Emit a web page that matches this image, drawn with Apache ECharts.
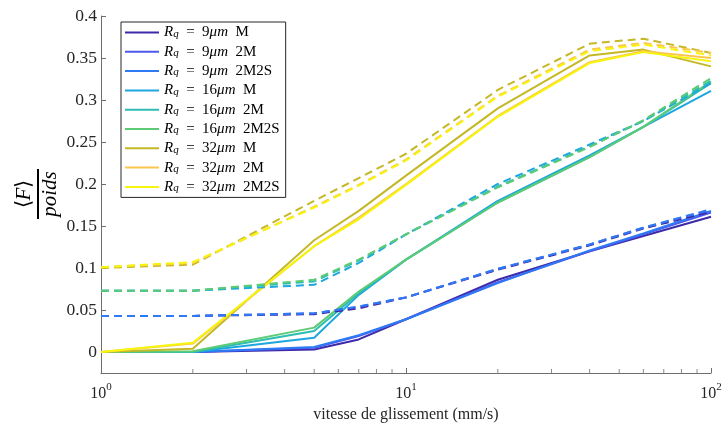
<!DOCTYPE html>
<html>
<head>
<meta charset="utf-8">
<script src="https://cdn.jsdelivr.net/npm/echarts@6/dist/echarts.min.js"></script>
<style>html,body{margin:0;padding:0;background:#fff}#c{width:725px;height:430px}</style>
</head>
<body>
<div id="c"></div>
<script>
// ---- data ----
const xVals = [1, 2, 5, 7, 10, 20, 40, 60, 100];

const names = ['9 M', '9 2M', '9 2M2S', '16 M', '16 2M', '16 2M2S', '32 M', '32 2M', '32 2M2S'];
const colors = ['#3d2aa8', '#4e58ec', '#2d7af4', '#1ea6df', '#2cbdb3', '#5ccb74', '#c5b826', '#fcc64e', '#f6f50e'];

// solid lines
const s9M      = [0, 0, 0.003, 0.015, 0.039, 0.086, 0.120, 0.138, 0.161];
const s9_2M    = [0, 0, 0.005, 0.019, 0.039, 0.083, 0.120, 0.140, 0.166];
const s9_2M2S  = [0, 0, 0.006, 0.020, 0.039, 0.082, 0.121, 0.141, 0.168];
const s16M     = [0, 0, 0.017, 0.068, 0.110, 0.180, 0.234, 0.268, 0.311];
const s16_2M   = [0, 0, 0.025, 0.070, 0.110, 0.178, 0.232, 0.268, 0.320];
const s16_2M2S = [0, 0.001, 0.029, 0.072, 0.110, 0.178, 0.232, 0.268, 0.322];
const s32M     = [0, 0.004, 0.133, 0.168, 0.210, 0.290, 0.353, 0.360, 0.340];
const s32_2M   = [0, 0.010, 0.126, 0.160, 0.200, 0.281, 0.345, 0.358, 0.350];
const s32_2M2S = [0, 0.011, 0.126, 0.158, 0.199, 0.280, 0.344, 0.357, 0.346];

// dashed lines
const d9M      = [0.043, 0.043, 0.045, 0.052, 0.065, 0.098, 0.127, 0.147, 0.167];
const d9_2M    = [0.043, 0.043, 0.046, 0.054, 0.065, 0.099, 0.128, 0.148, 0.169];
const d9_2M2S  = [0.043, 0.043, 0.046, 0.054, 0.065, 0.099, 0.128, 0.148, 0.170];
const d16M     = [0.073, 0.073, 0.080, 0.106, 0.140, 0.200, 0.247, 0.275, 0.320];
const d16_2M   = [0.073, 0.073, 0.084, 0.109, 0.140, 0.197, 0.245, 0.275, 0.323];
const d16_2M2S = [0.073, 0.073, 0.086, 0.110, 0.140, 0.196, 0.244, 0.276, 0.326];
const d32M     = [0.100, 0.104, 0.180, 0.207, 0.236, 0.312, 0.367, 0.373, 0.356];
const d32_2M   = [0.101, 0.106, 0.173, 0.199, 0.229, 0.305, 0.360, 0.368, 0.356];
const d32_2M2S = [0.101, 0.107, 0.172, 0.198, 0.228, 0.304, 0.358, 0.366, 0.353];

const solid = [s9M, s9_2M, s9_2M2S, s16M, s16_2M, s16_2M2S, s32M, s32_2M, s32_2M2S];
const dashed = [d9M, d9_2M, d9_2M2S, d16M, d16_2M, d16_2M2S, d32M, d32_2M, d32_2M2S];

const yTicks = [0, 0.05, 0.1, 0.15, 0.2, 0.25, 0.3, 0.35, 0.4];
const xMinorTicks = [2, 3, 4, 5, 6, 7, 8, 9, 20, 30, 40, 50, 60, 70, 80, 90];
const xLabel = 'vitesse de glissement (mm/s)';

// ---- chart ----
const FONT = 'Liberation Serif';
const TXT = '#262626';
const AX = '#6e6e6e';

const legendNames = names.map(n => 'Rq = ' + n.split(' ')[0] + 'μm ' + n.split(' ')[1]);

const series = [];
for (let i = 0; i < 9; i++) {
  series.push({
    name: legendNames[i], type: 'line', symbol: 'none', showSymbol: false,
    data: xVals.map((x, k) => [x, solid[i][k]]),
    lineStyle: { color: colors[i], width: 2 }, itemStyle: { color: colors[i] },
    silent: true, z: 2
  });
}
for (let i = 0; i < 9; i++) {
  series.push({
    name: legendNames[i] + ' (tirets)', type: 'line', symbol: 'none', showSymbol: false,
    data: xVals.map((x, k) => [x, dashed[i][k]]),
    lineStyle: { color: colors[i], width: 2, type: [8, 5] }, itemStyle: { color: colors[i] },
    silent: true, z: 2
  });
}
// minor ticks of the log axis (drawn at the axis baseline)
series.push({
  name: 'minor', type: 'scatter', symbol: 'rect', symbolSize: [1, 4], symbolOffset: [0, -2],
  data: xMinorTicks.map(x => [x, -0.025]),
  itemStyle: { color: AX }, silent: true, clip: false, z: 5
});

const chart = echarts.init(document.getElementById('c'), null, { renderer: 'canvas' });
chart.setOption({
  animation: false,
  backgroundColor: '#fff',
  grid: { left: 101, right: 14, top: 16, bottom: 57, outerBoundsMode: 'none', containLabel: false },
  xAxis: {
    type: 'log', logBase: 10, min: 1, max: 100,
    axisLine: { show: true, onZero: false, lineStyle: { color: AX, width: 1 } },
    axisTick: { show: true, inside: true, length: 5, lineStyle: { color: AX } },
    splitLine: { show: false },
    axisLabel: {
      color: TXT, fontFamily: FONT, fontSize: 16, margin: 9,
      formatter: v => '{b|10}{s|' + Math.round(Math.log10(v)) + '}',
      rich: {
        b: { fontFamily: FONT, fontSize: 16, color: TXT, lineHeight: 20, verticalAlign: 'bottom' },
        s: { fontFamily: FONT, fontSize: 11, color: TXT, lineHeight: 20, verticalAlign: 'top', padding: [0, 0, 8, 0] }
      }
    },
    name: xLabel, nameLocation: 'middle', nameGap: 26,
    nameTextStyle: { color: TXT, fontFamily: FONT, fontSize: 16 }
  },
  yAxis: {
    type: 'value', min: -0.025, max: 0.4,
    axisLine: { show: true, onZero: false, lineStyle: { color: AX, width: 1 } },
    axisTick: { show: true, inside: true, length: 5, customValues: yTicks, lineStyle: { color: AX } },
    splitLine: { show: false },
    axisLabel: {
      color: TXT, fontFamily: FONT, fontSize: 17.5, margin: 4, customValues: yTicks,
      formatter: v => String(+v.toFixed(3))
    }
  },
  legend: {
    data: legendNames,
    orient: 'vertical', left: 121, top: 22,
    padding: [3, 6, 3, 3],
    itemWidth: 34, itemHeight: 14, itemGap: 4.3,
    itemStyle: { opacity: 0 },
    backgroundColor: '#fff', borderColor: '#262626', borderWidth: 1,
    selectedMode: false,
    textStyle: {
      fontFamily: FONT, fontSize: 15, color: '#000', lineHeight: 14,
      rich: {
        i: { fontFamily: FONT, fontStyle: 'italic', fontSize: 15, lineHeight: 14, color: '#000' },
        q: { fontFamily: FONT, fontStyle: 'italic', fontSize: 11, lineHeight: 6, color: '#000', verticalAlign: 'bottom' },
        t: { fontFamily: FONT, fontSize: 15, lineHeight: 14, color: '#000' }
      }
    },
    formatter: name => {
      const m = name.match(/^Rq = (\d+)μm (.+)$/);
      return '{i|R}{q|q}{t|  =  ' + m[1] + '}{i|μm}{t|  ' + m[2] + '}';
    }
  },
  graphic: [{
    type: 'group', x: 38, y: 194, rotation: Math.PI / 2,
    children: [
      { type: 'line', shape: { x1: -25, y1: 0, x2: 25, y2: 0 }, style: { stroke: '#000', lineWidth: 2 } },
      { type: 'text', x: 0, y: -3, style: {
          text: '{n|⟨}{f|F}{n|⟩}', align: 'center', verticalAlign: 'bottom',
          rich: {
            n: { fontFamily: FONT, fontSize: 21, fill: '#000' },
            f: { fontFamily: FONT, fontSize: 21, fontStyle: 'italic', fill: '#000' }
          } } },
      { type: 'text', x: 0, y: 2, style: {
          text: 'poids', align: 'center', verticalAlign: 'top',
          font: 'italic 21px "Liberation Serif"', fill: '#000' } }
    ]
  }],
  series: series
});
</script>
</body>
</html>
